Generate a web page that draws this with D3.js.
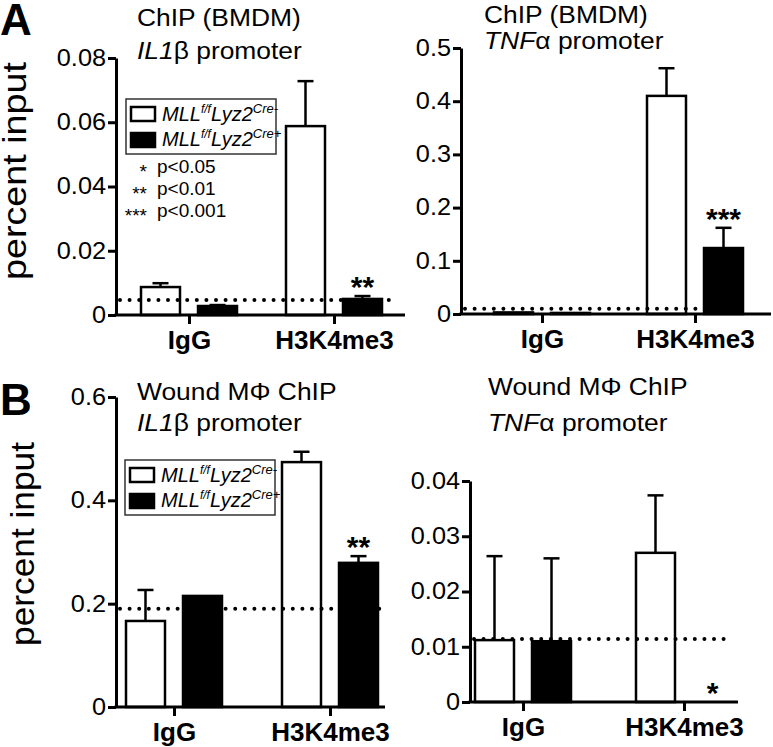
<!DOCTYPE html>
<html>
<head>
<meta charset="utf-8">
<script src="https://cdn.jsdelivr.net/npm/d3@7"></script>
<style>
body { margin: 0; background: white; }
text { font-family: Arial, "Liberation Sans", sans-serif; fill: black; }
</style>
</head>
<body>
<svg id="chart" width="773" height="747"></svg>
<script>
const groups = ["IgG", "H3K4me3"];
const genotypes = ["Cre-", "Cre+"];

// A: ChIP (BMDM), IL1b promoter
const a_il1_neg = [0.0087, 0.0588];
const a_il1_neg_sem = [0.0012, 0.0140];
const a_il1_pos = [0.0028, 0.0050];
const a_il1_pos_sem = [0.0003, 0.0009];
const a_il1_cutoff = 0.0047;
const a_il1_stars = ["", "**"];
const a_il1_ticks = [0, 0.02, 0.04, 0.06, 0.08];

// A: ChIP (BMDM), TNFa promoter
const a_tnf_neg = [0.003, 0.410];
const a_tnf_neg_sem = [0, 0.052];
const a_tnf_pos = [0.002, 0.124];
const a_tnf_pos_sem = [0, 0.038];
const a_tnf_cutoff = 0.010;
const a_tnf_stars = ["", "***"];
const a_tnf_ticks = [0, 0.1, 0.2, 0.3, 0.4, 0.5];

// B: wound macrophage ChIP, IL1b promoter
const b_il1_neg = [0.1665, 0.474];
const b_il1_neg_sem = [0.060, 0.020];
const b_il1_pos = [0.215, 0.279];
const b_il1_pos_sem = [0, 0.013];
const b_il1_cutoff = 0.19;
const b_il1_stars = ["", "**"];
const b_il1_ticks = [0, 0.2, 0.4, 0.6];

// B: wound macrophage ChIP, TNFa promoter
const b_tnf_neg = [0.0112, 0.0270];
const b_tnf_neg_sem = [0.0152, 0.0104];
const b_tnf_pos = [0.0110, 0];
const b_tnf_pos_sem = [0.0150, 0];
const b_tnf_cutoff = 0.0114;
const b_tnf_stars = ["", "*"];
const b_tnf_ticks = [0, 0.01, 0.02, 0.03, 0.04];

const pval_stars = ["*", "**", "***"];
const pval_text = ["p<0.05", "p<0.01", "p<0.001"];

const SX = 1.1; // the original lettering is a bit wider than Arial

const svg = d3.select("#chart");

function fmt_tick(decimals){
    return d => d === 0 ? "0" : d3.format("." + decimals + "f")(d);
}

function draw_legend(g, x, y){
    let lg = g.append("g").attr("transform", "translate(" + x + "," + y + ")");
    lg.append("rect").attr("width", 150).attr("height", 55)
        .attr("fill", "white").attr("stroke", "#333").attr("stroke-width", 1.5);
    genotypes.forEach((geno, i) => {
        lg.append("rect")
            .attr("x", 5).attr("y", 8 + i * 26).attr("width", 24).attr("height", 14)
            .attr("fill", i === 0 ? "white" : "black")
            .attr("stroke", "black").attr("stroke-width", 2.5);
        let t = lg.append("text").attr("x", 36).attr("y", 22 + i * 25)
            .attr("font-size", 20).attr("font-style", "italic");
        t.append("tspan").text("MLL");
        t.append("tspan").attr("font-size", 12).attr("dy", -8).text("f/f");
        t.append("tspan").attr("dy", 8).text("Lyz2");
        t.append("tspan").attr("font-size", 13).attr("dy", -8).text(geno);
    });
}

function plot_panel(p){
    let g = svg.append("g");

    let y = d3.scaleLinear().domain([0, p.ticks[p.ticks.length - 1]]).range([p.y0, p.y1]);
    let x0 = d3.scalePoint().domain(groups).range(p.centers);
    let x1 = d3.scaleBand().domain(genotypes).range([-48, 48]).paddingInner(0.316);
    let bw = x1.bandwidth();

    let rows = [];
    groups.forEach((grp, i) => {
        rows.push({group: grp, geno: "Cre-", mean: p.neg[i], sem: p.neg_sem[i], star: ""});
        rows.push({group: grp, geno: "Cre+", mean: p.pos[i], sem: p.pos_sem[i], star: p.stars[i]});
    });

    // error bars (upper only)
    rows.filter(d => d.sem > 0).forEach(d => {
        let cx = x0(d.group) + x1(d.geno) + bw / 2;
        g.append("line").attr("x1", cx).attr("x2", cx)
            .attr("y1", y(d.mean)).attr("y2", y(d.mean + d.sem))
            .attr("stroke", "black").attr("stroke-width", 2.5);
        g.append("line").attr("x1", cx - 8).attr("x2", cx + 8)
            .attr("y1", y(d.mean + d.sem)).attr("y2", y(d.mean + d.sem))
            .attr("stroke", "black").attr("stroke-width", 2.5);
    });

    // bars
    g.selectAll("rect.bar").data(rows.filter(d => d.mean > 0)).join("rect")
        .attr("class", "bar")
        .attr("x", d => x0(d.group) + x1(d.geno))
        .attr("y", d => y(d.mean))
        .attr("width", bw)
        .attr("height", d => y(0) - y(d.mean))
        .attr("fill", d => d.geno === "Cre-" ? "white" : "black")
        .attr("stroke", "black").attr("stroke-width", 2.5);

    // dotted background line
    g.append("line")
        .attr("x1", p.x_start + 4).attr("x2", p.dot_end)
        .attr("y1", y(p.cutoff)).attr("y2", y(p.cutoff))
        .attr("stroke", "black").attr("stroke-width", 4)
        .attr("stroke-linecap", "round").attr("stroke-dasharray", "0 9.6");

    // significance stars
    rows.filter(d => d.star !== "").forEach(d => {
        g.append("text")
            .attr("x", x0(d.group) + x1(d.geno) + bw / 2)
            .attr("y", y(d.mean + d.sem) + 1)
            .attr("text-anchor", "middle").attr("font-size", 30).attr("font-weight", "bold")
            .text(d.star);
    });

    // y axis
    let ya = g.append("g").attr("transform", "translate(" + p.x_start + ",0)")
        .call(d3.axisLeft(y).tickValues(p.ticks).tickSize(8).tickSizeOuter(0).tickFormat(fmt_tick(p.decimals)));
    ya.select(".domain").attr("stroke-width", 3);
    ya.selectAll(".tick line").attr("stroke-width", 3);
    ya.selectAll(".tick text").attr("font-size", 23).attr("x", -10 / SX)
        .attr("transform", "scale(" + SX + ",1)")
        .attr("font-family", "Arial, 'Liberation Sans', sans-serif");

    // x axis
    let xa = g.append("g").attr("transform", "translate(0," + p.y0 + ")")
        .call(d3.axisBottom(x0).tickSize(9).tickSizeOuter(0));
    xa.select(".domain").attr("d", "M" + (p.x_start - 1.5) + ",0H" + p.x_end).attr("stroke-width", 3);
    xa.selectAll(".tick line").attr("stroke-width", 3);
    xa.selectAll(".tick text").attr("font-size", 26).attr("font-weight", "bold")
        .attr("y", 34).attr("dy", 0)
        .attr("font-family", "Arial, 'Liberation Sans', sans-serif");

    // titles
    g.append("text")
        .attr("transform", "translate(" + p.title_x + "," + p.title_y[0] + ") scale(" + SX + ",1)")
        .attr("font-size", 24).text(p.title);
    let t2 = g.append("text")
        .attr("transform", "translate(" + p.title_x + "," + p.title_y[1] + ") scale(" + SX + ",1)")
        .attr("font-size", 24);
    t2.append("tspan").attr("font-style", "italic").text(p.gene);
    t2.append("tspan").text(p.greek + " promoter");

    if(p.ylabel){
        g.append("text")
            .attr("transform", "translate(" + p.ylabel.x + "," + p.ylabel.y + ") rotate(-90)")
            .attr("text-anchor", "middle").attr("font-size", 33)
            .attr("textLength", p.ylabel.len).attr("lengthAdjust", "spacingAndGlyphs")
            .text("percent input");
    }

    if(p.legend){
        draw_legend(g, p.legend[0], p.legend[1]);
    }
}

const panels = [
    {neg: a_il1_neg, neg_sem: a_il1_neg_sem, pos: a_il1_pos, pos_sem: a_il1_pos_sem,
     cutoff: a_il1_cutoff, stars: a_il1_stars, ticks: a_il1_ticks, decimals: 2,
     y0: 315, y1: 58, centers: [189, 334], x_start: 116, x_end: 405, dot_end: 390,
     title: "ChIP (BMDM)", gene: "IL1", greek: "\u03b2", title_x: 137, title_y: [26, 59],
     ylabel: {x: 26, y: 171, len: 218}, legend: [126, 99]},
    {neg: a_tnf_neg, neg_sem: a_tnf_neg_sem, pos: a_tnf_pos, pos_sem: a_tnf_pos_sem,
     cutoff: a_tnf_cutoff, stars: a_tnf_stars, ticks: a_tnf_ticks, decimals: 1,
     y0: 314, y1: 48, centers: [542, 695], x_start: 461, x_end: 771, dot_end: 740,
     title: "ChIP (BMDM)", gene: "TNF", greek: "\u03b1", title_x: 484, title_y: [23, 49]},
    {neg: b_il1_neg, neg_sem: b_il1_neg_sem, pos: b_il1_pos, pos_sem: b_il1_pos_sem,
     cutoff: b_il1_cutoff, stars: b_il1_stars, ticks: b_il1_ticks, decimals: 1,
     y0: 707, y1: 397, centers: [174, 330], x_start: 116, x_end: 385, dot_end: 385,
     title: "Wound M\u03a6 ChIP", gene: "IL1", greek: "\u03b2", title_x: 137, title_y: [400, 431],
     ylabel: {x: 34, y: 544, len: 204}, legend: [125, 460]},
    {neg: b_tnf_neg, neg_sem: b_tnf_neg_sem, pos: b_tnf_pos, pos_sem: b_tnf_pos_sem,
     cutoff: b_tnf_cutoff, stars: b_tnf_stars, ticks: b_tnf_ticks, decimals: 2,
     y0: 702, y1: 481, centers: [523, 684], x_start: 470, x_end: 738, dot_end: 727,
     title: "Wound M\u03a6 ChIP", gene: "TNF", greek: "\u03b1", title_x: 488, title_y: [395, 431]}
];

panels.forEach(p => plot_panel(p));

// p-value key in panel A
pval_stars.forEach((s, i) => {
    svg.append("text").attr("x", 147).attr("y", 178 + i * 22)
        .attr("text-anchor", "end").attr("font-size", 19).text(s);
    svg.append("text").attr("x", 157).attr("y", 173 + i * 22)
        .attr("font-size", 19).text(pval_text[i]);
});

// panel letters
svg.append("text").attr("x", 0).attr("y", 35).attr("font-size", 44).attr("font-weight", "bold").text("A");
svg.append("text").attr("x", 0).attr("y", 415).attr("font-size", 44).attr("font-weight", "bold").text("B");
</script>
</body>
</html>
